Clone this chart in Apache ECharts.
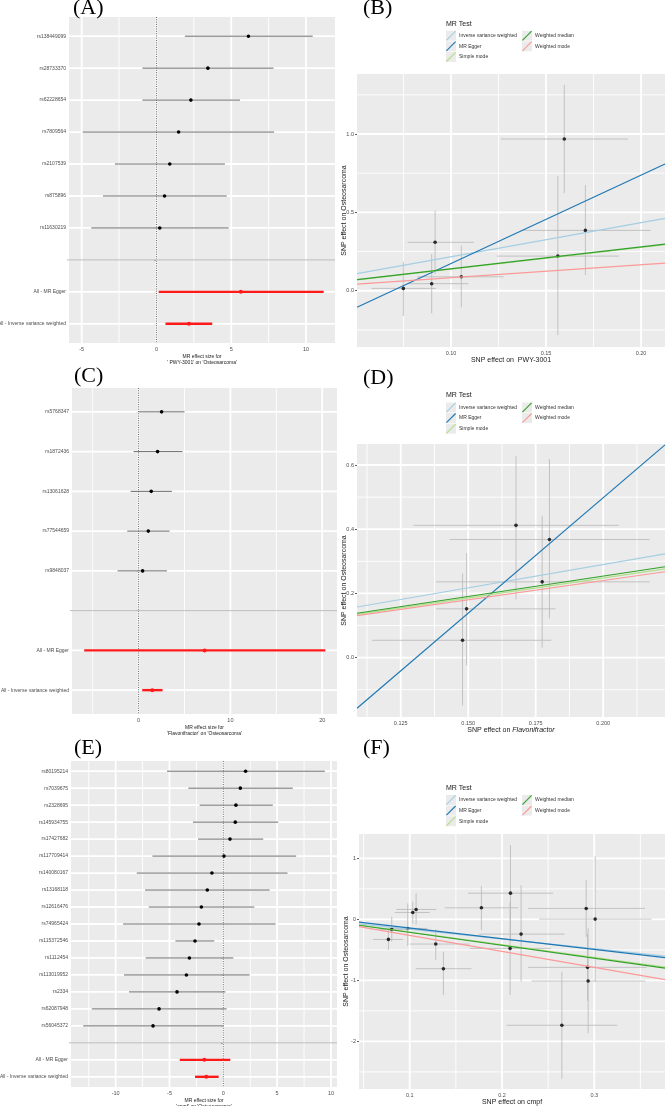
<!DOCTYPE html>
<html>
<head>
<meta charset="utf-8">
<script src="https://cdn.jsdelivr.net/npm/echarts@6/dist/echarts.min.js"></script>
<style>
  html, body { margin: 0; padding: 0; background: #fff; }
  #main { width: 666px; height: 1106px; }
</style>
</head>
<body>
<div id="main"></div>
<script>
// ---- (A) forest: PWY-3001 -> Osteosarcoma
const aSnps = ['rs138449099', 'rs28733370', 'rs62228654', 'rs7809564', 'rs2107539', 'rs875896', 'rs11630219'];
const aEst = [6.15, 3.44, 2.30, 1.48, 0.89, 0.54, 0.22];
const aLo = [1.90, -0.94, -0.94, -4.93, -2.78, -3.58, -4.36];
const aHi = [10.45, 7.83, 5.59, 7.87, 4.58, 4.70, 4.83];
const aSumEst = [5.64, 2.17];
const aSumLo = [0.15, 0.60];
const aSumHi = [11.18, 3.73];
const aTicks = [-5, 0, 5, 10];
const aMinor = [-2.5, 2.5, 7.5];

// ---- (C) forest: Flavonifractor -> Osteosarcoma
const cSnps = ['rs5768347', 'rs1872436', 'rs13061628', 'rs77544659', 'rs9848037'];
const cEst = [2.51, 2.07, 1.38, 1.06, 0.44];
const cLo = [0.02, -0.54, -0.87, -1.23, -2.29];
const cHi = [5.01, 4.79, 3.63, 3.38, 3.09];
const cSumEst = [7.19, 1.49];
const cSumLo = [-5.92, 0.40];
const cSumHi = [20.34, 2.61];
const cTicks = [0, 10, 20];
const cMinor = [-5, 5, 15];

// ---- (E) forest: cmpf -> Osteosarcoma
const eSnps = ['rs80195214', 'rs7039675', 'rs2328695', 'rs145934755', 'rs17427682', 'rs117709414',
  'rs140080167', 'rs13168118', 'rs12616476', 'rs74965424', 'rs115372546', 'rs1112454',
  'rs113019952', 'rs2334', 'rs62087948', 'rs56045372'];
const eEst = [2.07, 1.58, 1.17, 1.11, 0.62, 0.06, -1.06, -1.49, -2.04, -2.26, -2.63, -3.15, -3.43, -4.30, -5.97, -6.53];
const eLo = [-5.23, -3.25, -2.20, -2.82, -2.35, -6.59, -8.04, -7.27, -6.93, -9.31, -4.45, -7.21, -9.22, -8.76, -12.22, -13.02];
const eHi = [9.43, 6.46, 4.60, 5.10, 3.71, 6.77, 5.96, 4.30, 2.88, 4.85, -0.84, 0.93, 2.44, 0.19, 0.31, 0.03];
const eSumEst = [-1.76, -1.58];
const eSumLo = [-4.05, -2.63];
const eSumHi = [0.65, -0.43];
const eTicks = [-10, -5, 0, 5, 10];
const eMinor = [-12.5, -7.5, -2.5, 2.5, 7.5];

const summaryNames = ['All - MR Egger', 'All - Inverse variance weighted'];

// ---- MR methods (scatter panels)
const methods = ['Inverse variance weighted', 'MR Egger', 'Simple mode', 'Weighted median', 'Weighted mode'];
const methodColors = ['#A6CEE3', '#1F78B4', '#B2DF8A', '#33A02C', '#FB9A99'];

// ---- (B) scatter: PWY-3001
const bX = [0.0749, 0.0898, 0.0916, 0.1054, 0.1562, 0.1596, 0.1707];
const bY = [0.015, 0.045, 0.309, 0.089, 0.221, 0.968, 0.385];
const bXlo = [0.0581, 0.0771, 0.0771, 0.0823, 0.1241, 0.1262, 0.1367];
const bXhi = [0.0921, 0.1091, 0.1121, 0.1276, 0.1884, 0.1930, 0.2051];
const bYlo = [-0.161, -0.144, 0.107, -0.106, -0.283, 0.623, 0.100];
const bYhi = [0.185, 0.234, 0.511, 0.287, 0.732, 1.313, 0.675];
const bSlope = [2.17, 5.64, 1.38, 1.40, 0.83];
const bIntercept = [0, -0.39, 0, 0, 0];
const bXTicks = [0.10, 0.15, 0.20];
const bXMinor = [0.075, 0.125, 0.175];
const bYTicks = [0, 0.5, 1.0];
const bYMinor = [-0.25, 0.25, 0.75, 1.25];

// ---- (D) scatter: Flavonifractor
const dX = [0.1677, 0.1801, 0.1774, 0.1494, 0.1479];
const dY = [0.412, 0.368, 0.236, 0.152, 0.054];
const dXlo = [0.1297, 0.1431, 0.1381, 0.1381, 0.1143];
const dXhi = [0.2058, 0.2172, 0.2172, 0.1823, 0.1808];
const dYlo = [0.181, 0.122, 0.031, -0.024, -0.149];
const dYhi = [0.628, 0.618, 0.441, 0.326, 0.262];
const dSlope = [1.45, 7.19, 1.24, 1.27, 1.20];
const dIntercept = [0, -0.94, 0, 0, 0];
const dXTicks = [0.125, 0.150, 0.175, 0.200];
const dXMinor = [0.1125, 0.1375, 0.1625, 0.1875, 0.2125];
const dYTicks = [0, 0.2, 0.4, 0.6];
const dYMinor = [-0.1, 0.1, 0.3, 0.5];

// ---- (F) scatter: cmpf
const fX = [0.0769, 0.0805, 0.0978, 0.1033, 0.1069, 0.1282, 0.1365, 0.1777, 0.2092, 0.2088, 0.2207, 0.2649, 0.2913, 0.3010, 0.2927, 0.2934];
const fY = [-0.328, -0.164, -0.148, 0.114, 0.163, -0.404, -0.808, 0.190, 0.430, -0.475, -0.241, -1.735, 0.180, 0.005, -0.786, -1.010];
const fXlo = [0.0602, 0.0675, 0.0729, 0.0837, 0.0855, 0.1000, 0.1065, 0.1380, 0.1633, 0.1650, 0.1750, 0.2048, 0.2283, 0.2403, 0.2283, 0.2320];
const fXhi = [0.0928, 0.1181, 0.1192, 0.1217, 0.1289, 0.1651, 0.1669, 0.2175, 0.2555, 0.2530, 0.2680, 0.3249, 0.3549, 0.3621, 0.3570, 0.3556];
const fYlo = [-0.502, -0.366, -0.437, -0.066, -0.082, -0.666, -1.239, -0.175, -0.356, -1.239, -1.021, -2.610, -0.284, -1.026, -1.336, -1.866];
const fYhi = [-0.148, 0.043, 0.262, 0.288, 0.425, -0.164, -0.530, 0.545, 1.216, 0.289, 0.561, -0.857, 0.643, 1.036, -0.236, -0.147];
const fSlope = [-1.60, -1.76, -2.08, -2.12, -2.62];
const fIntercept = [0, 0.035, 0, 0, 0];
const fXTicks = [0.1, 0.2, 0.3];
const fXMinor = [0.05, 0.15, 0.25, 0.35];
const fYTicks = [-2, -1, 0, 1];
const fYMinor = [-2.5, -1.5, -0.5, 0.5];

const font = 'Liberation Sans';
const tickColor = '#4D4D4D';

let grid = [
  { left: 69, top: 17, width: 266, height: 326 },
  { left: 357, top: 74, width: 308, height: 273 },
  { left: 72, top: 388, width: 265, height: 326 },
  { left: 357, top: 444, width: 308, height: 273 },
  { left: 71, top: 761, width: 266, height: 326 },
  { left: 359, top: 834, width: 306, height: 255 }
].map(g => Object.assign({ show: true, backgroundColor: '#EBEBEB', borderWidth: 0, containLabel: false, outerBoundsMode: 'none' }, g))

let xAxis = []
let yAxis = []
let series = []

// white panel grid (minor + major), drawn under the marks
function panelGrid(gi, xMajor, xMinor, yMajor, yMinor) {
  let data = []
  xMinor.forEach(v => data.push([v, 0, 0.9]))
  yMinor.forEach(v => data.push([v, 1, 0.9]))
  xMajor.forEach(v => data.push([v, 0, 1.8]))
  yMajor.forEach(v => data.push([v, 1, 1.8]))
  series.push({
    type: 'custom', xAxisIndex: gi, yAxisIndex: gi, silent: true, z: 1,
    data: data,
    renderItem: function (params, api) {
      let cs = params.coordSys
      let v = api.value(0)
      let shape
      if (api.value(1) === 0) {
        let x = api.coord([v, 0])[0]
        shape = { x1: x, y1: cs.y, x2: x, y2: cs.y + cs.height }
      } else {
        let y = api.coord([0, v])[1]
        shape = { x1: cs.x, y1: y, x2: cs.x + cs.width, y2: y }
      }
      return { type: 'line', shape: shape, style: { stroke: '#FFFFFF', lineWidth: api.value(2) } }
    }
  })
}

function forestRender(lineColor, lineWidth, pointColor, r) {
  return function (params, api) {
    let a = api.coord([api.value(0), api.value(3)])
    let b = api.coord([api.value(1), api.value(3)])
    let p = api.coord([api.value(2), api.value(3)])
    return {
      type: 'group',
      children: [
        { type: 'line', shape: { x1: a[0], y1: a[1], x2: b[0], y2: b[1] }, style: { stroke: lineColor, lineWidth: lineWidth } },
        { type: 'circle', shape: { cx: p[0], cy: p[1], r: r }, style: { fill: pointColor } }
      ]
    }
  }
}

function forestPanel(gi, snps, est, lo, hi, sumEst, sumLo, sumHi, ticks, minor, xMin, xMax, xName) {
  let rows = snps.concat([''], summaryNames)
  let n = rows.length
  let idx = rows.map((r, i) => i)
  xAxis.push({
    gridIndex: gi, type: 'value', min: xMin, max: xMax,
    axisLine: { show: false }, splitLine: { show: false },
    axisTick: { show: true, length: 2, customValues: ticks, lineStyle: { color: '#333', width: 0.8 } },
    axisLabel: { customValues: ticks, fontSize: 5.5, color: tickColor, margin: 3, fontFamily: font },
    name: xName, nameLocation: 'middle', nameGap: 11, nameMoveOverlap: false,
    nameTextStyle: { fontSize: 5, color: '#1A1A1A', fontFamily: font, lineHeight: 5.5 }
  })
  yAxis.push({
    gridIndex: gi, type: 'value', inverse: true, min: -0.6, max: n - 0.4,
    axisLine: { show: false }, splitLine: { show: false },
    axisTick: { show: true, length: 2, customValues: idx, lineStyle: { color: '#333', width: 0.8 } },
    axisLabel: { customValues: idx, fontSize: 5, color: tickColor, margin: 3, fontFamily: font, formatter: v => rows[Math.round(v)] || '' }
  })
  panelGrid(gi, ticks, minor, idx.filter(i => i !== snps.length), [])
  // reference lines: dotted at 0, grey separator at the blank row
  series.push({
    type: 'custom', xAxisIndex: gi, yAxisIndex: gi, silent: true, z: 2,
    data: [[0, 0], [snps.length, 1]],
    renderItem: function (params, api) {
      let cs = params.coordSys
      if (api.value(1) === 0) {
        let x = api.coord([0, 0])[0]
        return { type: 'line', shape: { x1: x, y1: cs.y, x2: x, y2: cs.y + cs.height }, style: { stroke: '#555', lineWidth: 0.9, lineDash: [1, 1.3] } }
      }
      let y = api.coord([0, api.value(0)])[1]
      return { type: 'line', shape: { x1: cs.x - 2, y1: y, x2: cs.x + cs.width, y2: y }, style: { stroke: '#BEBEBE', lineWidth: 1 } }
    }
  })
  series.push({
    type: 'custom', xAxisIndex: gi, yAxisIndex: gi, silent: true, z: 3,
    data: snps.map((s, i) => [lo[i], hi[i], est[i], i]),
    encode: { x: [0, 1, 2], y: 3 },
    renderItem: forestRender('#6A6A6A', 1, '#000', 1.8)
  })
  series.push({
    type: 'custom', xAxisIndex: gi, yAxisIndex: gi, silent: true, z: 3,
    data: sumEst.map((v, k) => [sumLo[k], sumHi[k], v, snps.length + 1 + k]),
    encode: { x: [0, 1, 2], y: 3 },
    renderItem: forestRender('#FF1A1A', 2.4, '#FF1A1A', 2)
  })
}

function scatterPanel(gi, xs, ys, xlo, xhi, ylo, yhi, slope, intercept, xT, xM, yT, yM, xMin, xMax, yMin, yMax, xDec, yDec, xName) {
  xAxis.push({
    gridIndex: gi, type: 'value', min: xMin, max: xMax,
    axisLine: { show: false }, splitLine: { show: false },
    axisTick: { show: true, length: 2, customValues: xT, lineStyle: { color: '#333', width: 0.8 } },
    axisLabel: { customValues: xT, fontSize: 5.5, color: tickColor, margin: 3, fontFamily: font, formatter: v => v.toFixed(xDec) },
    name: xName, nameLocation: 'middle', nameGap: 10, nameMoveOverlap: false,
    nameTextStyle: { fontSize: 7, color: '#1A1A1A', fontFamily: font, rich: { i: { fontSize: 7, fontStyle: 'italic', color: '#1A1A1A', fontFamily: font } } }
  })
  yAxis.push({
    gridIndex: gi, type: 'value', min: yMin, max: yMax,
    axisLine: { show: false }, splitLine: { show: false },
    axisTick: { show: true, length: 2, customValues: yT, lineStyle: { color: '#333', width: 0.8 } },
    axisLabel: { customValues: yT, fontSize: 5.5, color: tickColor, margin: 3, fontFamily: font, formatter: v => v.toFixed(yDec) },
    name: 'SNP effect on Osteosarcoma', nameLocation: 'middle', nameRotate: 90, nameGap: 9.5, nameMoveOverlap: false,
    nameTextStyle: { fontSize: 7, color: '#1A1A1A', fontFamily: font }
  })
  panelGrid(gi, xT, xM, yT, yM)
  series.push({
    type: 'custom', xAxisIndex: gi, yAxisIndex: gi, silent: true, z: 3,
    data: xs.map((x, i) => [x, ys[i], xlo[i], xhi[i], ylo[i], yhi[i]]),
    encode: { x: [0, 2, 3], y: [1, 4, 5] },
    renderItem: function (params, api) {
      let a = api.coord([api.value(2), api.value(1)])
      let b = api.coord([api.value(3), api.value(1)])
      let c = api.coord([api.value(0), api.value(4)])
      let d = api.coord([api.value(0), api.value(5)])
      let st = { stroke: '#B8B8B8', lineWidth: 0.8 }
      return {
        type: 'group', children: [
          { type: 'line', shape: { x1: c[0], y1: c[1], x2: d[0], y2: d[1] }, style: st },
          { type: 'line', shape: { x1: a[0], y1: a[1], x2: b[0], y2: b[1] }, style: st }
        ]
      }
    }
  })
  series.push({
    type: 'scatter', xAxisIndex: gi, yAxisIndex: gi, silent: true, z: 4,
    symbolSize: 3.6, itemStyle: { color: '#000' },
    data: xs.map((x, i) => [x, ys[i]])
  })
  methods.forEach((m, k) => {
    series.push({
      type: 'line', name: m, xAxisIndex: gi, yAxisIndex: gi, silent: true, z: 5,
      showSymbol: false, symbol: 'none',
      itemStyle: { color: methodColors[k] },
      lineStyle: { color: methodColors[k], width: 1.2 },
      data: [[xMin, intercept[k] + slope[k] * xMin], [xMax, intercept[k] + slope[k] * xMax]]
    })
  })
}

forestPanel(0, aSnps, aEst, aLo, aHi, aSumEst, aSumLo, aSumHi, aTicks, aMinor, -5.85, 11.94,
  "MR effect size for\n' PWY-3001' on 'Osteosarcoma'")
scatterPanel(1, bX, bY, bXlo, bXhi, bYlo, bYhi, bSlope, bIntercept, bXTicks, bXMinor, bYTicks, bYMinor,
  0.0505, 0.2126, -0.359, 1.383, 2, 1, 'SNP effect on  PWY-3001')
forestPanel(2, cSnps, cEst, cLo, cHi, cSumEst, cSumLo, cSumHi, cTicks, cMinor, -7.25, 21.61,
  "MR effect size for\n'Flavonifractor' on 'Osteosarcoma'")
scatterPanel(3, dX, dY, dXlo, dXhi, dYlo, dYhi, dSlope, dIntercept, dXTicks, dXMinor, dYTicks, dYMinor,
  0.1088, 0.2229, -0.185, 0.6655, 3, 1, 'SNP effect on {i|Flavonifractor}')
forestPanel(4, eSnps, eEst, eLo, eHi, eSumEst, eSumLo, eSumHi, eTicks, eMinor, -14.15, 10.56,
  "MR effect size for\n'cmpf' on 'Osteosarcoma'")
scatterPanel(5, fX, fY, fXlo, fXhi, fYlo, fYhi, fSlope, fIntercept, fXTicks, fXMinor, fYTicks, fYMinor,
  0.045, 0.3767, -2.78, 1.40, 1, 0, 'SNP effect on cmpf')

// panel letters and legend titles
const panelLabels = ['(A)', '(B)', '(C)', '(D)', '(E)', '(F)']
const labelPos = [[73, -3], [363, -3], [74, 365], [363, 367], [74, 737], [363, 737]]
let title = panelLabels.map((t, i) => ({
  text: t, left: labelPos[i][0], top: labelPos[i][1], padding: 0,
  textStyle: { fontFamily: 'Liberation Serif', fontSize: 22, fontWeight: 'normal', color: '#000' }
}))

// legends: two columns per scatter panel
const legendTops = [30.7, 402.5, 795]
const legendCols = [446, 522]
const legendIcon = 'path://M0,9.2 L9.2,0 L10,0.8 L0.8,10 Z'
let legend = []
let graphic = []
legendTops.forEach(top => {
  title.push({
    text: 'MR Test', left: 446, top: top - 10.5, padding: 0,
    textStyle: { fontFamily: font, fontSize: 7, fontWeight: 'normal', color: '#1A1A1A' }
  })
  ;[methods.slice(0, 3), methods.slice(3)].forEach((names, c) => {
    legend.push({
      orient: 'vertical', left: legendCols[c], top: top, padding: 0,
      itemWidth: 10, itemHeight: 10, itemGap: 0.6, icon: legendIcon,
      selectedMode: false, data: names,
      textStyle: { fontFamily: font, fontSize: 5, color: '#333', padding: [0, 0, 0, -2] }
    })
    names.forEach((nm, r) => {
      graphic.push({
        type: 'rect', left: legendCols[c], top: top + r * 10.6, z: -1, silent: true,
        shape: { width: 10, height: 10 }, style: { fill: '#EBEBEB' }
      })
    })
  })
})

let myChart = echarts.init(document.getElementById('main'))
myChart.setOption({
  animation: false,
  textStyle: { fontFamily: font },
  title: title,
  legend: legend,
  graphic: graphic,
  grid: grid,
  xAxis: xAxis,
  yAxis: yAxis,
  series: series
})
</script>
</body>
</html>
